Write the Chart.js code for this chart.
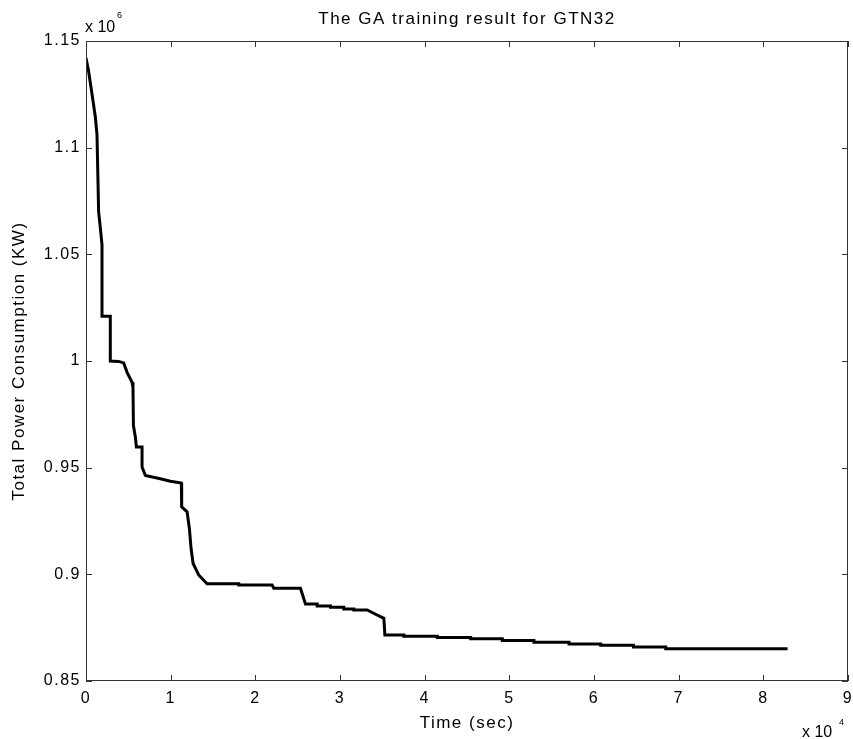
<!DOCTYPE html>
<html>
<head>
<meta charset="utf-8">
<script src="https://cdn.jsdelivr.net/npm/chart.js@4/dist/chart.umd.min.js"></script>
<style>
  html, body { margin: 0; padding: 0; background: #fff; }
  #wrap { width: 853px; height: 739px; }
</style>
</head>
<body>
<div id="wrap"><canvas id="gaChart" width="853" height="739"></canvas></div>
<script>

// DATA ########################################################################

// time in seconds
var timeSec = [
    0, 300, 900, 1100, 1300, 1490, 1690, 1890, 1890, 2870,
    2870, 3850, 4450, 4850, 5440, 5550, 5600, 5830, 5950, 6620,
    6620, 7010, 8780, 9960, 11260, 11300, 11940, 12210, 12410, 12650,
    13310, 14300, 18040, 18040, 21980, 22180, 25330, 25920, 27300, 27300,
    28880, 28880, 30450, 30450, 31630, 31630, 33210, 34200, 35180, 35300,
    37540, 37540, 41490, 41490, 45430, 45430, 49170, 49170, 52910, 52910,
    57050, 57050, 60790, 60790, 64660, 64660, 68470, 68470, 82860
];

// total power consumption in KW
var powerKW = [
    1142000, 1136000, 1120000, 1114500, 1106000, 1070000, 1062500, 1054500, 1021000, 1021000,
    1000000, 999800, 999100, 994700, 990000, 987700, 969800, 964400, 959700, 959700,
    950300, 946400, 944800, 943600, 942800, 931600, 929300, 921500, 912100, 905100,
    899700, 895600, 895600, 895000, 895000, 893500, 893500, 886100, 886100, 885200,
    885200, 884600, 884600, 883800, 883800, 883300, 883300, 881300, 879400, 871600,
    871600, 871000, 871000, 870400, 870400, 869800, 869800, 869000, 869000, 868200,
    868200, 867400, 867400, 866700, 866700, 865900, 865900, 865100, 865100
];

var xTicks = [0, 10000, 20000, 30000, 40000, 50000, 60000, 70000, 80000, 90000];
var yTicks = [850000, 900000, 950000, 1000000, 1050000, 1100000, 1150000];

var chartTitle = "The GA training result for GTN32";
var xLabel = "Time (sec)";
var yLabel = "Total Power Consumption (KW)";


// CHART #######################################################################

var FONT = "'Liberation Sans', Arial, Helvetica, sans-serif";
var AXIS_COLOR = "#333";
var SPACING = "1.5px";

var points = timeSec.map(function (t, i) {
    return { x: t, y: powerKW[i] };
});

// the matlab font is wider, so spread the letters a bit
var letterSpacing = {
    id: 'letterSpacing',
    beforeUpdate: function (chart) { chart.ctx.letterSpacing = SPACING; },
    beforeDraw: function (chart) { chart.ctx.letterSpacing = SPACING; }
};

// matlab style box with inward ticks and the exponent labels
var matlabBox = {
    id: 'matlabBox',
    afterDraw: function (chart) {
        var ctx = chart.ctx;
        var a = chart.chartArea;
        var xs = chart.scales.x;
        var ys = chart.scales.y;
        var len = 6;

        ctx.save();
        ctx.strokeStyle = AXIS_COLOR;
        ctx.lineWidth = 1;
        ctx.strokeRect(a.left + 0.5, a.top + 0.5, a.right - a.left - 1, a.bottom - a.top - 1);

        ctx.beginPath();
        xTicks.forEach(function (t) {
            var px = Math.round(xs.getPixelForValue(t)) + 0.5;
            ctx.moveTo(px, a.bottom);
            ctx.lineTo(px, a.bottom - len);
            ctx.moveTo(px, a.top);
            ctx.lineTo(px, a.top + len);
        });
        yTicks.forEach(function (v) {
            var py = Math.round(ys.getPixelForValue(v)) + 0.5;
            ctx.moveTo(a.left, py);
            ctx.lineTo(a.left + len, py);
            ctx.moveTo(a.right, py);
            ctx.lineTo(a.right - len, py);
        });
        ctx.stroke();

        // exponents
        ctx.letterSpacing = "0px";
        ctx.fillStyle = "#000";
        ctx.textBaseline = "alphabetic";
        ctx.textAlign = "left";
        ctx.font = "16px " + FONT;
        ctx.fillText("x 10", a.left - 1, 32);
        ctx.fillText("x 10", a.right - 46, 737);
        ctx.font = "9px " + FONT;
        ctx.fillText("6", a.left + 31, 18);
        ctx.fillText("4", a.right - 9, 725);
        ctx.restore();
    }
};

var ctx_line = document.getElementById("gaChart");

var myLineChart = new Chart(ctx_line, {
    type: 'line',
    data: {
        datasets: [
            {
                label: "GA",
                data: points,
                borderColor: "#000",
                backgroundColor: "#000",
                borderWidth: 3,
                borderJoinStyle: 'miter',
                pointRadius: 0,
                fill: false,
                tension: 0
            }
        ]
    },
    options: {
        responsive: false,
        animation: false,
        layout: { padding: { left: 0, right: 5, top: 0, bottom: 0 } },
        plugins: {
            legend: { display: false },
            tooltip: { enabled: false },
            title: {
                display: true,
                fullSize: false,
                text: chartTitle,
                color: "#000",
                font: { family: FONT, size: 17, weight: 'normal' },
                padding: { top: 9, bottom: 11.6 }
            }
        },
        scales: {
            x: {
                type: 'linear',
                min: 0,
                max: 90000,
                afterBuildTicks: function (scale) {
                    scale.ticks = xTicks.map(function (v) { return { value: v }; });
                },
                afterFit: function (scale) {
                    scale.height = 58;
                    scale.paddingLeft = 0;
                    scale.paddingRight = 0;
                },
                grid: { display: false, drawTicks: false },
                border: { display: false },
                ticks: {
                    color: "#000",
                    padding: 8,
                    maxRotation: 0,
                    font: { family: FONT, size: 16 },
                    callback: function (v) { return String(v / 10000); }
                },
                title: {
                    display: true,
                    text: xLabel,
                    color: "#000",
                    font: { family: FONT, size: 17 },
                    padding: { top: 0, bottom: 5 }
                }
            },
            y: {
                type: 'linear',
                min: 850000,
                max: 1150000,
                afterBuildTicks: function (scale) {
                    scale.ticks = yTicks.map(function (v) { return { value: v }; });
                },
                afterFit: function (scale) { scale.width = 86; },
                grid: { display: false, drawTicks: false },
                border: { display: false },
                ticks: {
                    color: "#000",
                    padding: 5,
                    font: { family: FONT, size: 16 },
                    callback: function (v) { return String(+(v / 1000000).toFixed(2)); }
                },
                title: {
                    display: true,
                    text: yLabel,
                    color: "#000",
                    font: { family: FONT, size: 17 },
                    padding: { top: 9.5, bottom: 0 }
                }
            }
        }
    },
    plugins: [letterSpacing, matlabBox]
});
</script>
</body>
</html>
